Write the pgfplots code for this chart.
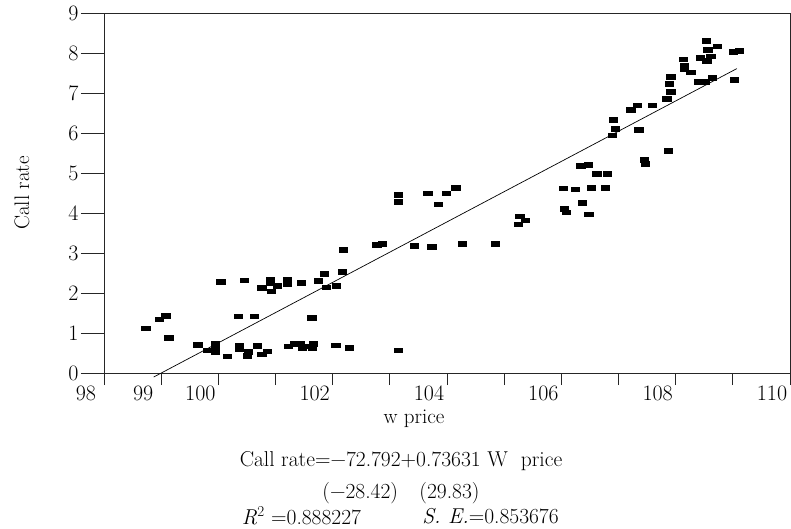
\documentclass[border=0pt]{standalone}
\usepackage{fontspec}
\usepackage{pgfplots}
\pgfplotsset{compat=1.18}
\begin{document}
\begin{tikzpicture}
\useasboundingbox (-104pt,-155pt) rectangle (687pt,373pt);
\begin{axis}[
  at={(0pt,0pt)}, anchor=south west,
  scale only axis, width=686pt, height=360pt,
  xmin=98, xmax=110, ymin=0, ymax=9,
  clip=false,
  /pgf/number format/assume math mode=true,
  axis line style={line width=0.9pt, black!85},
  tick align=outside, tick pos=left,
  major tick length=12pt, minor tick length=23pt,
  xtick={98,...,110},
  xticklabels={98,99,100,{},102,{},104,{},106,{},108,{},110},
  ytick={0,...,9},
  minor ytick={0,...,9},
  major y tick style={draw=none},
  every tick/.style={line width=0.9pt, black!85},
  tick label style={font=\fontsize{22}{26}\selectfont},
  xticklabel style={xshift=-18pt, yshift=0pt, inner sep=1pt},
  yticklabel style={xshift=-10pt},
  xlabel={w price},
  ylabel={Call rate},
  label style={font=\fontsize{21}{25}\selectfont},
  xlabel style={at={(axis description cs:0.5,0)}, anchor=center, inner sep=1pt, yshift=-46pt, xshift=-33pt},
  ylabel style={at={(axis description cs:0,0.5)}, anchor=center, yshift=82pt},
]
\addplot[only marks, mark=square*, mark size=2.3pt,
  mark options={xscale=1.8, fill=black, draw=black, line width=0.3pt}]
coordinates {
(98.73,1.12) (98.96,1.35) (99.08,1.43) (99.13,0.88) (99.64,0.71) (99.81,0.57)
(99.94,0.75) (99.94,0.67) (99.94,0.53) (100.16,0.42) (100.04,2.29) (100.45,2.32)
(100.35,1.42) (100.63,1.42) (100.36,0.69) (100.36,0.61) (100.52,0.53) (100.50,0.43)
(100.68,0.69) (100.76,0.47) (100.85,0.55) (100.76,2.14) (100.91,2.33) (100.91,2.25)
(101.03,2.19) (100.92,2.05) (101.20,2.33) (101.20,2.23) (101.45,2.26) (101.75,2.31)
(101.63,1.39) (101.88,2.15) (102.06,2.18) (101.85,2.49) (102.16,2.54) (102.18,3.08)
(102.77,3.21) (102.87,3.23) (101.22,0.67) (101.32,0.73) (101.43,0.73) (101.46,0.63)
(101.57,0.67) (101.66,0.73) (101.64,0.63) (102.05,0.70) (102.29,0.63) (103.15,0.57)
(103.15,4.46) (103.15,4.29) (103.42,3.18) (103.66,4.50) (103.98,4.50) (104.15,4.64)
(103.85,4.22) (103.73,3.16) (104.27,3.23) (104.84,3.23) (105.27,3.92) (105.37,3.82)
(105.24,3.72) (106.03,4.62) (106.24,4.60) (106.52,4.64) (106.77,4.64) (106.36,4.26)
(106.05,4.11) (106.08,4.02) (106.48,3.97) (106.34,5.18) (106.47,5.21) (106.62,4.99)
(106.80,4.99) (106.91,6.33) (106.94,6.11) (106.89,5.95) (107.35,6.09) (107.87,5.56)
(107.45,5.33) (107.47,5.24) (107.21,6.58) (107.32,6.70) (107.59,6.70) (107.84,6.86)
(107.91,7.03) (107.89,7.23) (107.91,7.41) (108.13,7.85) (108.15,7.70) (108.15,7.60)
(108.26,7.52) (108.40,7.28) (108.52,7.28) (108.64,7.38) (109.02,7.33) (108.53,8.31)
(108.73,8.17) (108.56,8.08) (108.43,7.88) (108.54,7.81) (108.61,7.92) (109.00,8.04)
(109.11,8.06)
};
\addplot[black, line width=0.7pt] coordinates {(98.87,-0.1) (109.07,7.61)};
\end{axis}
\node[font=\fontsize{21.5}{25}\selectfont] at (297pt,-88pt) {Call rate=−72.792+0.73631 W\ \ price};
\node[font=\fontsize{21.5}{25}\selectfont] at (297pt,-120pt) {(−28.42)\quad(29.83)};
\node[font=\fontsize{21.5}{25}\selectfont] at (197.5pt,-143pt) {\textit{R}\textsuperscript{2} =0.888227};
\node[font=\fontsize{21.5}{25}\selectfont] at (386.5pt,-143pt) {\textit{S. E.}=0.853676};
\end{tikzpicture}
\end{document}
